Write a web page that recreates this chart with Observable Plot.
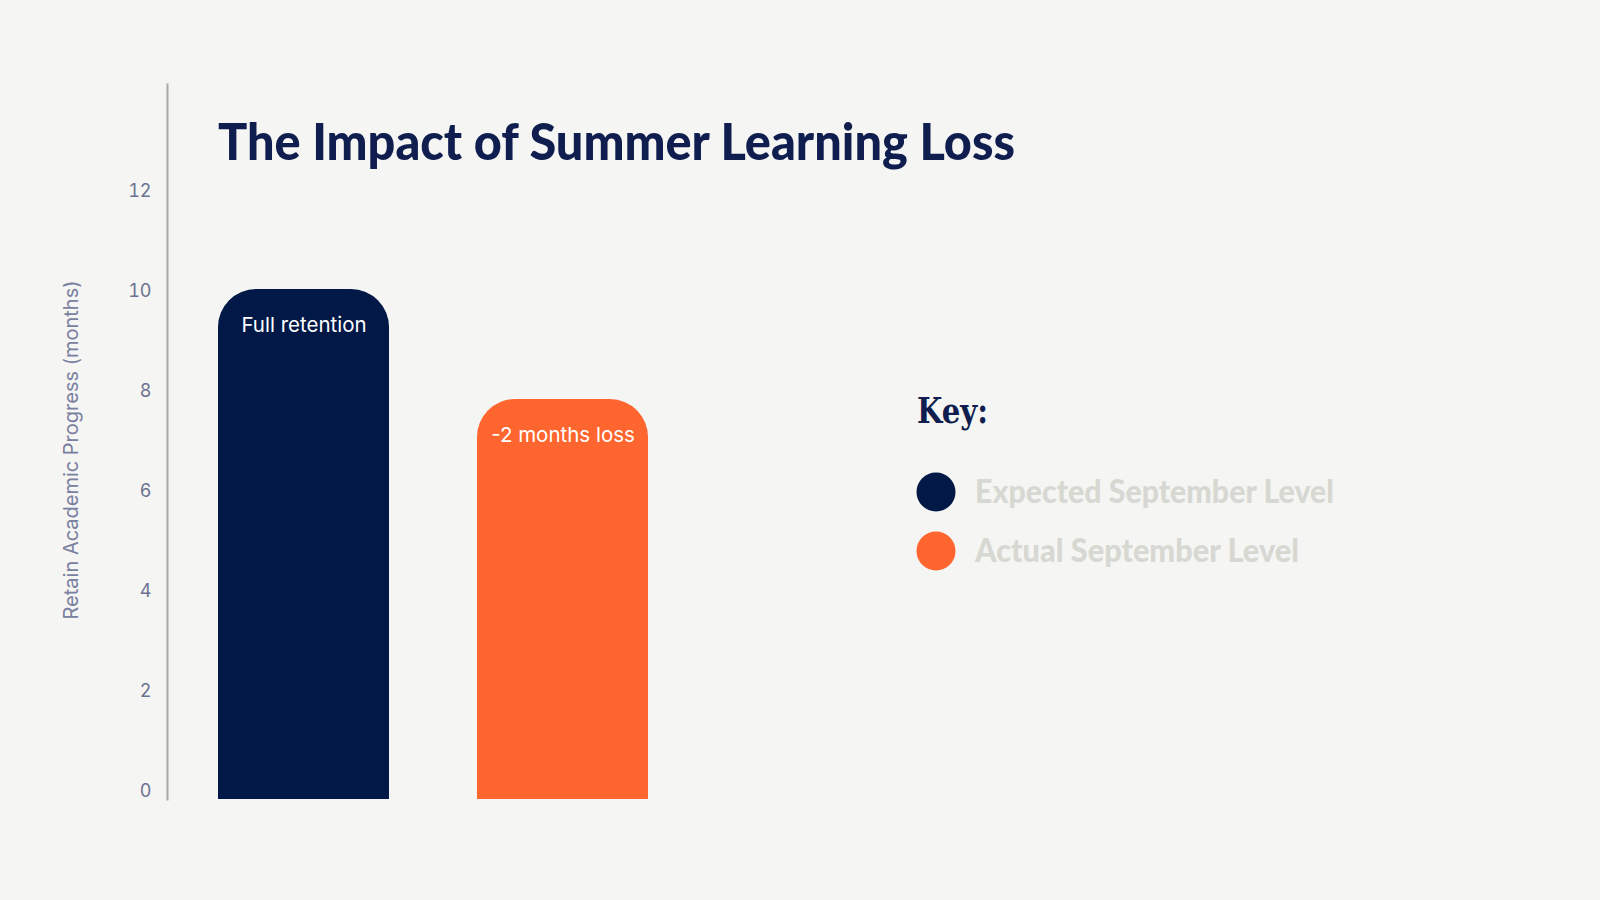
<!DOCTYPE html>
<html>
<head>
<meta charset="utf-8">
<script src="https://cdn.jsdelivr.net/npm/d3@7"></script>
<script src="https://cdn.jsdelivr.net/npm/@observablehq/plot@0.6"></script>
<style>
  html, body { margin: 0; padding: 0; background: #f5f5f3; }
  #wrap { position: relative; width: 1600px; height: 900px; overflow: hidden; }
  #chart { position: absolute; left: 0; top: 0; }
  #overlay { position: absolute; left: 0; top: 0; pointer-events: none; }
</style>
</head>
<body>
<div id="wrap">
  <div id="chart"></div>
  <svg id="overlay" width="1600" height="900"></svg>
</div>
<script>
const title = "The Impact of Summer Learning Loss";
const categories = ["Expected September Level", "Actual September Level"];
const values = [10.2, 8];
const barLabels = ["Full retention", "-2 months loss"];
const colors = ["#021846", "#ff652e"];
const yTicks = [0, 2, 4, 6, 8, 10, 12];
const yLabel = "Retain Academic Progress (months)";
const keyTitle = "Key:";

const data = categories.map((c, i) => ({cat: c, value: values[i], label: barLabels[i]}));

const chart = Plot.plot({
  width: 1600,
  height: 900,
  marginTop: 84,
  marginBottom: 101,
  marginLeft: 167,
  marginRight: 0,
  style: {background: "transparent", fontFamily: "Inter, 'Noto Sans', sans-serif", color: "#6b7290"},
  x: {domain: categories, range: [218, 648], paddingInner: 0.34, paddingOuter: 0, axis: null},
  y: {domain: [0, 14.3], axis: null},
  color: {domain: categories, range: colors},
  marks: [
    Plot.axisY({ticks: yTicks, tickSize: 0, tickPadding: 16, dy: -8, label: null, fontSize: 18, fill: "#6b7290"}),
    Plot.frame({anchor: "left", stroke: "#a8a8a8", strokeWidth: 2, strokeOpacity: 1}),
    Plot.barY(data, {x: "cat", y: "value", fill: "cat", rx1y1: 38, rx2y1: 38, rx1y2: 0, rx2y2: 0}),
    Plot.text(data, {x: "cat", y: "value", text: "label", dy: 36, fill: "white", fontSize: 20.5}),
    Plot.text([yLabel], {frameAnchor: "left", textAnchor: "middle", dx: -96, dy: 8, rotate: -90, fill: "#7a80a0", fontSize: 20})
  ]
});
document.getElementById("chart").appendChild(chart);

const svg = d3.select("#overlay");
svg.append("text")
  .attr("x", 218).attr("y", 160)
  .attr("font-family", "Lato, 'Noto Sans', sans-serif")
  .attr("font-weight", 900)
  .attr("font-size", 52)
  .attr("fill", "#0f1e4e")
  .attr("textLength", 797)
  .attr("lengthAdjust", "spacingAndGlyphs")
  .text(title);

svg.append("text")
  .attr("x", 917).attr("y", 423)
  .attr("font-family", "'DejaVu Serif', 'Liberation Serif', serif")
  .attr("font-weight", 700)
  .attr("font-size", 36)
  .attr("fill", "#0f1e4e")
  .attr("textLength", 71)
  .attr("lengthAdjust", "spacingAndGlyphs")
  .text(keyTitle);

const keyY = [492, 551];
const keyW = [359, 324];
categories.forEach((c, i) => {
  svg.append("circle").attr("cx", 936).attr("cy", keyY[i]).attr("r", 19.5).attr("fill", colors[i]);
  svg.append("text")
    .attr("x", 975).attr("y", keyY[i] + 11)
    .attr("font-family", "Lato, 'Noto Sans', sans-serif")
    .attr("font-weight", 900)
    .attr("font-size", 33)
    .attr("fill", "#d8d8d2")
    .attr("textLength", keyW[i])
    .attr("lengthAdjust", "spacingAndGlyphs")
    .text(c);
});
</script>
</body>
</html>
